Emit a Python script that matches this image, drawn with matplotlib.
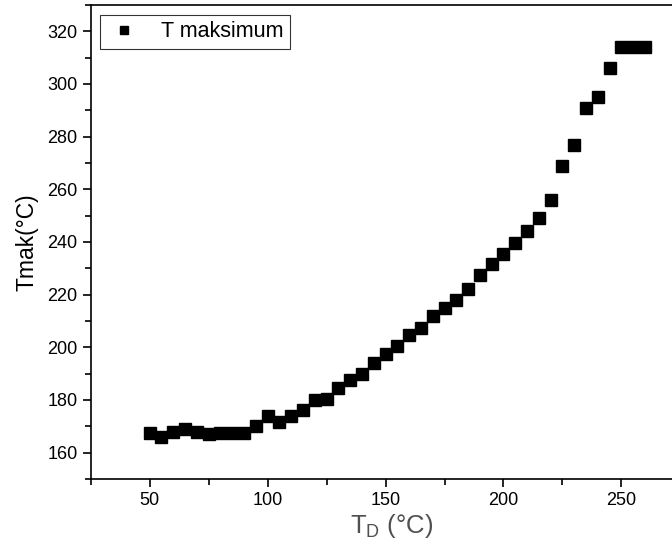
import numpy as np
import matplotlib
matplotlib.use("Agg")
import matplotlib.pyplot as plt
from matplotlib.ticker import MultipleLocator

plt.rcParams['font.family'] = ['Liberation Sans', 'DejaVu Sans']

t_d = [50, 55, 60, 65, 70, 75, 80, 85, 90, 95, 100, 105, 110, 115, 120, 125,
       130, 135, 140, 145, 150, 155, 160, 165, 170, 175, 180, 185, 190, 195,
       200, 205, 210, 215, 220, 225, 230, 235, 240, 245, 250, 255, 260]
t_max = [167.5, 166, 168, 169, 168, 167, 167.5, 167.5, 167.5, 170, 174, 171.5,
         174, 176, 180, 180.5, 184.5, 187.5, 190, 194, 197.5, 200.5, 204.5,
         207.5, 212, 215, 218, 222, 227.5, 231.5, 235.5, 239.5, 244, 249, 256,
         269, 277, 291, 295, 306, 314, 314, 314]

fig = plt.figure(figsize=(6.72, 5.53), dpi=100)
ax = fig.add_axes([0.135, 0.134, 0.895, 0.857])

ax.plot(t_d, t_max, 's', color='black', markersize=8, label='T maksimum')

ax.set_xlim(25, 280)
ax.set_ylim(150, 330)
ax.xaxis.set_major_locator(MultipleLocator(50))
ax.xaxis.set_minor_locator(MultipleLocator(25))
ax.yaxis.set_major_locator(MultipleLocator(20))
ax.yaxis.set_minor_locator(MultipleLocator(10))
ax.tick_params(which='major', direction='out', length=6, width=1.2, labelsize=13)
ax.tick_params(which='minor', direction='out', length=4, width=1.2)
for s in ax.spines.values():
    s.set_linewidth(1.2)

ax.set_xlabel(r'T$_\mathregular{D}$ (°C)', fontsize=18.5, color='#505050', labelpad=2)
ax.set_ylabel('Tmak(°C)', fontsize=16.5, labelpad=6)

leg = ax.legend(loc='upper left', fontsize=15.5, frameon=True, fancybox=False,
                edgecolor='black', borderaxespad=0.45, handletextpad=0.9,
                borderpad=0.3, markerscale=0.8, handlelength=1.6)
leg.get_frame().set_linewidth(0.8)

fig.savefig('out.png', dpi=100)
